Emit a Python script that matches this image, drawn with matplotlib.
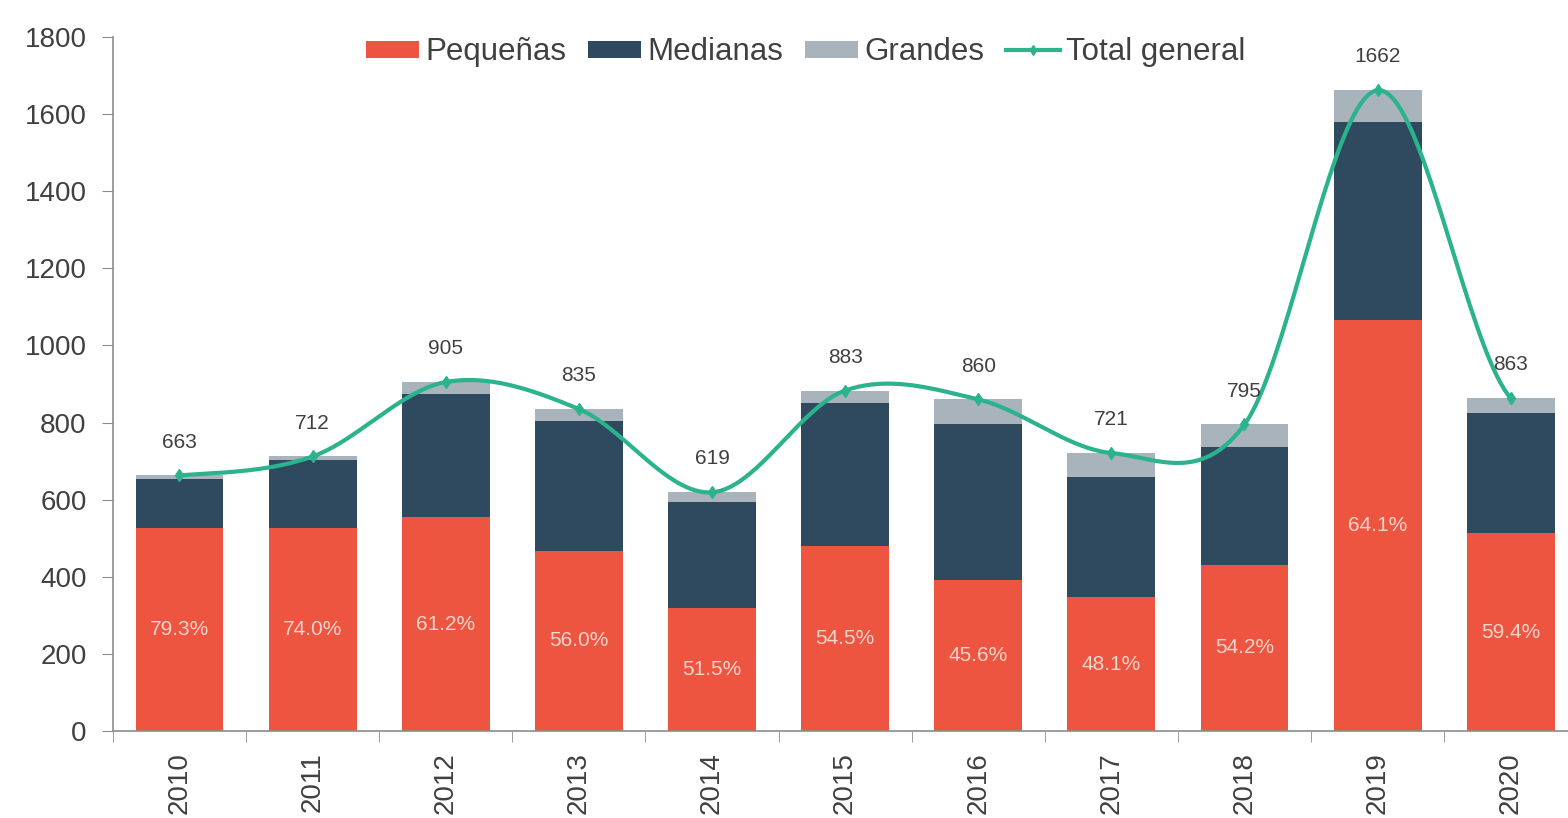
import numpy as np
import matplotlib
matplotlib.use("Agg")
import matplotlib.pyplot as plt

years = ["2010", "2011", "2012", "2013", "2014", "2015", "2016", "2017", "2018", "2019", "2020"]
pequenas = [526, 527, 554, 468, 319, 481, 392, 347, 431, 1065, 513]
medianas = [127, 176, 320, 336, 275, 370, 404, 312, 306, 514, 312]
grandes = [10, 9, 31, 31, 25, 32, 64, 62, 58, 83, 38]
total = [663, 712, 905, 835, 619, 883, 860, 721, 795, 1662, 863]
pct_pequenas = ["79.3%", "74.0%", "61.2%", "56.0%", "51.5%", "54.5%", "45.6%", "48.1%", "54.2%", "64.1%", "59.4%"]

red = "#EE5540"
navy = "#2F4A5E"
gray = "#A9B3BB"
teal = "#2BB38E"
txt = "#404040"

plt.rcParams["font.family"] = ["Liberation Sans", "DejaVu Sans"]

fig = plt.figure(figsize=(15.68, 8.18), dpi=100)
ax = fig.add_axes([0.072, 0.1064, 0.928, 0.8484])

x = np.arange(len(years))
w = 0.66
peq = np.array(pequenas)
med = np.array(medianas)
gra = np.array(grandes)
b1 = ax.bar(x, peq, w, color=red, label="Pequeñas", zorder=2)
b2 = ax.bar(x, med, w, bottom=peq, color=navy, label="Medianas", zorder=2)
b3 = ax.bar(x, gra, w, bottom=peq + med, color=gray, label="Grandes", zorder=2)

# smoothed line (Catmull-Rom, like Excel's smoothed lines)
t = np.array(total, dtype=float)
p = np.concatenate([[t[0]], t, [t[-1]]])
xs, ys = [], []
for i in range(len(t) - 1):
    p0, p1, p2, p3 = p[i], p[i + 1], p[i + 2], p[i + 3]
    s = np.linspace(0, 1, 40)
    y = 0.5 * ((2 * p1) + (-p0 + p2) * s + (2 * p0 - 5 * p1 + 4 * p2 - p3) * s ** 2
               + (-p0 + 3 * p1 - 3 * p2 + p3) * s ** 3)
    xs.extend(i + s)
    ys.extend(y)
ax.plot(xs, ys, color=teal, lw=3, zorder=3, solid_capstyle="round")
ax.plot(x, t, linestyle="none", marker="d", ms=6, color=teal, zorder=4)
l1, = ax.plot([], [], color=teal, lw=3, marker="d", ms=5, label="Total general")

for i in range(len(years)):
    ax.annotate(str(total[i]), (x[i], total[i]), xytext=(0, 24), textcoords="offset points",
                ha="center", va="center", fontsize=15, color=txt, zorder=5)
    ax.text(x[i], peq[i] / 2, pct_pequenas[i], ha="center", va="center", fontsize=15,
            color="#F7D5CD", zorder=5)

ax.set_yticks(range(0, 1801, 200))
ax.set_xticks(x)
ax.set_xticklabels(years, rotation=90, fontsize=20, color=txt)
ax.set_xticks(np.arange(-0.5, 10.0, 1), minor=True)
ax.set_ylim(0, 1800)
ax.set_xlim(-0.5, 10.43)
ax.tick_params(axis="x", which="major", length=0, pad=15)
ax.tick_params(axis="x", which="minor", length=8, color="#8C8C8C", direction="out")
ax.tick_params(axis="y", length=8, color="#8C8C8C", labelsize=20, labelcolor=txt, pad=11)
for s in ["top", "right"]:
    ax.spines[s].set_visible(False)
for s in ["left", "bottom"]:
    ax.spines[s].set_color("#8C8C8C")
    ax.spines[s].set_linewidth(1.2)

ax.legend([b1, b2, b3, l1], ["Pequeñas", "Medianas", "Grandes", "Total general"],
          loc="center", bbox_to_anchor=(0.476, 0.978), ncol=4, frameon=False, fontsize=22.5,
          handlelength=1.7, handleheight=0.45, handletextpad=0.2, columnspacing=0.7,
          labelcolor=txt, borderaxespad=0)

fig.savefig("out.png", dpi=100)
